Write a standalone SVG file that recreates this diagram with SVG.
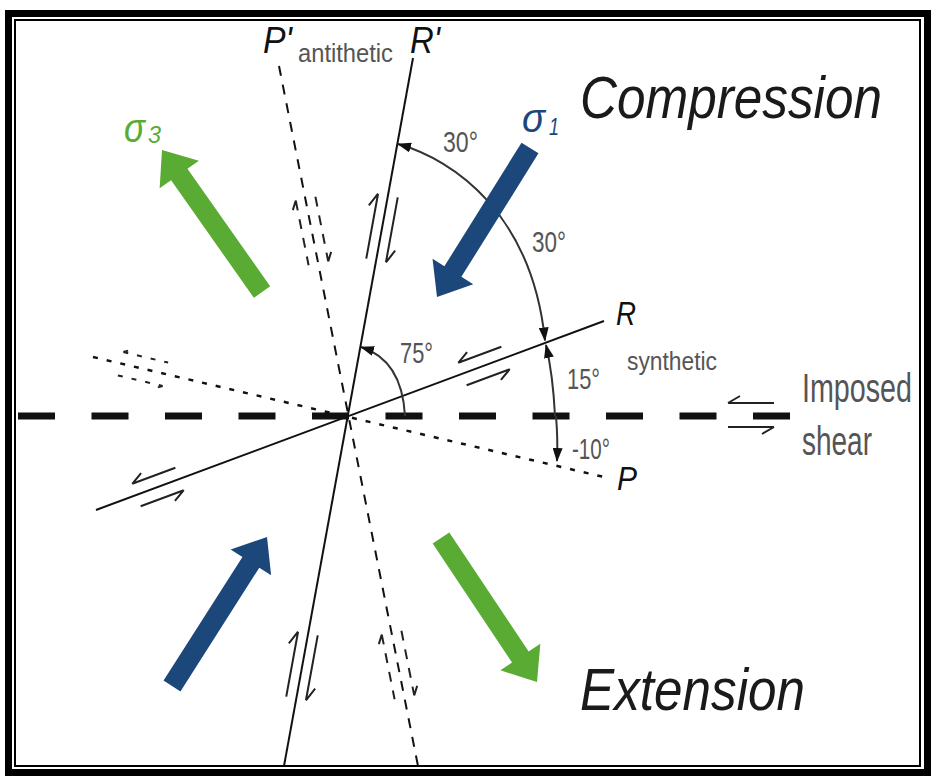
<svg xmlns="http://www.w3.org/2000/svg" width="933" height="777" viewBox="0 0 933 777">
<style>
.ln{fill:none;stroke:#111;stroke-width:2}
.dash{stroke-dasharray:10 9}
.dot{stroke-dasharray:5 9;stroke-width:2.5}
.arc{fill:none;stroke:#333;stroke-width:2}
.lbl{font-family:"Liberation Sans",Arial,sans-serif;fill:#555}
.big{font-family:"Liberation Sans",Arial,sans-serif;font-style:italic;fill:#1a1a1a}
.ltr{font-family:"Liberation Sans",Arial,sans-serif;font-style:italic;fill:#111}
.sig{font-family:"Liberation Sans",Arial,sans-serif;font-style:italic}
.hs{fill:none;stroke:#222;stroke-width:2}
.green{fill:#5aab34}
.blue{fill:#1c477a}
</style>
<defs>
<marker id="ah" viewBox="0 0 14 10" refX="13" refY="5" markerWidth="14" markerHeight="10" markerUnits="userSpaceOnUse" orient="auto-start-reverse">
<path d="M0,0 L14,5 L0,10 z" fill="#111"/>
</marker>
<g id="hsL"><path d="M-33,-10H33M-33,-10l13,-7M-33,10H33M33,10l-13,7"/></g>
<g id="hsS"><path d="M-23,-12H23M-23,-12l12,-7M-23,12H23M23,12l-12,7"/></g>
</defs>
<rect width="933" height="777" fill="#fff"/>
<g id="frame">
<rect x="8.5" y="13.5" width="919" height="759" fill="none" stroke="#000" stroke-width="7"/>
<rect x="15" y="20" width="905" height="746" fill="none" stroke="#000" stroke-width="2"/>
</g>
<g id="connectors">
<line id="imposed-line" x1="18" y1="416" x2="790" y2="416" stroke="#111" stroke-width="7" stroke-dasharray="37 36.5"/>
<line id="R-line" class="ln" x1="96" y1="510" x2="604" y2="321"/>
<line id="Rp-line" class="ln" x1="413" y1="58" x2="284" y2="766"/>
<line id="P-line" class="ln dot" x1="93" y1="357" x2="604" y2="477"/>
<line id="Pp-line" class="ln dash" x1="279" y1="66" x2="418" y2="766"/>
<use href="#hsS" class="hs" transform="translate(751,415)"/>
<use href="#hsS" class="hs" transform="translate(484,366) rotate(-20.4)"/>
<use href="#hsS" class="hs" transform="translate(158,487) rotate(-20.4)"/>
<use href="#hsS" class="hs dot" transform="translate(143,369) rotate(13.2)"/>
<use href="#hsL" class="hs" transform="translate(382,228) rotate(100.3) scale(1,-1)"/>
<use href="#hsL" class="hs" transform="translate(302,666) rotate(100.3) scale(1,-1)"/>
<use href="#hsL" class="hs dash" transform="translate(312,231) rotate(78.8) scale(1,-1)"/>
<use href="#hsL" class="hs dash" transform="translate(398,665) rotate(78.8) scale(1,-1)"/>
<path id="arc30" class="arc" d="M398,144 C455,160 532,215 545,340.5" marker-start="url(#ah)" marker-end="url(#ah)"/>
<path id="arc75" class="arc" d="M361,347 Q402,360 405,416" marker-start="url(#ah)"/>
<path id="arc15" class="arc" d="M555,416 Q553,375 546,345" marker-end="url(#ah)"/>
<path id="arc10" class="arc" d="M556,416 Q558,440 557,461" marker-end="url(#ah)"/>
</g>
<g id="sigma3-arrow-top">
<polygon class="green" points="270.18,286.24 187.45,168.77 198.89,160.71 162,150 159.65,188.35 171.10,180.29 253.83,297.76"/>
</g>
<g id="sigma1-arrow-top">
<polygon class="blue" points="521.52,142.70 444.40,266.24 432.53,258.83 437,297 473.25,284.25 461.37,276.84 538.49,153.30"/>
</g>
<g id="sigma1-arrow-bottom">
<polygon class="blue" points="180.43,691.38 259.30,567.68 271.11,575.20 267,537 230.63,549.40 242.44,556.92 163.57,680.62"/>
</g>
<g id="sigma3-arrow-bottom">
<polygon class="green" points="432.68,543.55 512.04,662.59 500.39,670.35 537,682 540.33,643.73 528.68,651.49 449.32,532.45"/>
</g>
<g id="labels">
<text class="ltr" x="263" y="53" font-size="36" textLength="29" lengthAdjust="spacingAndGlyphs">P'</text>
<text class="lbl" x="298" y="62" font-size="26" textLength="95" lengthAdjust="spacingAndGlyphs" fill="#666">antithetic</text>
<text class="ltr" x="410" y="53" font-size="36" textLength="30" lengthAdjust="spacingAndGlyphs">R'</text>
<text class="ltr" x="616" y="325" font-size="34" textLength="20" lengthAdjust="spacingAndGlyphs">R</text>
<text class="lbl" x="627" y="370" font-size="25" textLength="90" lengthAdjust="spacingAndGlyphs" fill="#666">synthetic</text>
<text class="ltr" x="617" y="490" font-size="34" textLength="20" lengthAdjust="spacingAndGlyphs">P</text>
<text class="lbl" x="443" y="152" font-size="30" textLength="35" lengthAdjust="spacingAndGlyphs">30°</text>
<text class="lbl" x="532" y="252" font-size="30" textLength="34" lengthAdjust="spacingAndGlyphs">30°</text>
<text class="lbl" x="400" y="363" font-size="30" textLength="33" lengthAdjust="spacingAndGlyphs">75°</text>
<text class="lbl" x="567" y="389" font-size="30" textLength="33" lengthAdjust="spacingAndGlyphs">15°</text>
<text class="lbl" x="572" y="459" font-size="30" textLength="38" lengthAdjust="spacingAndGlyphs">-10°</text>
<text class="lbl" x="802" y="402" font-size="40" textLength="110" lengthAdjust="spacingAndGlyphs">Imposed</text>
<text class="lbl" x="802" y="455" font-size="40" textLength="70" lengthAdjust="spacingAndGlyphs">shear</text>
<text class="big" x="580" y="118" font-size="60" textLength="302" lengthAdjust="spacingAndGlyphs">Compression</text>
<text class="big" x="580" y="710" font-size="60" textLength="225" lengthAdjust="spacingAndGlyphs">Extension</text>
<text class="sig" x="124" y="142" font-size="40" fill="#5aab34" textLength="21" lengthAdjust="spacingAndGlyphs">σ</text>
<text class="sig" x="148" y="143" font-size="24" fill="#5aab34" textLength="13" lengthAdjust="spacingAndGlyphs">3</text>
<text class="sig" x="522" y="132" font-size="40" fill="#1c477a" textLength="23" lengthAdjust="spacingAndGlyphs">σ</text>
<text class="sig" x="549" y="135" font-size="24" fill="#1c477a" textLength="10" lengthAdjust="spacingAndGlyphs">1</text>
</g>
</svg>
